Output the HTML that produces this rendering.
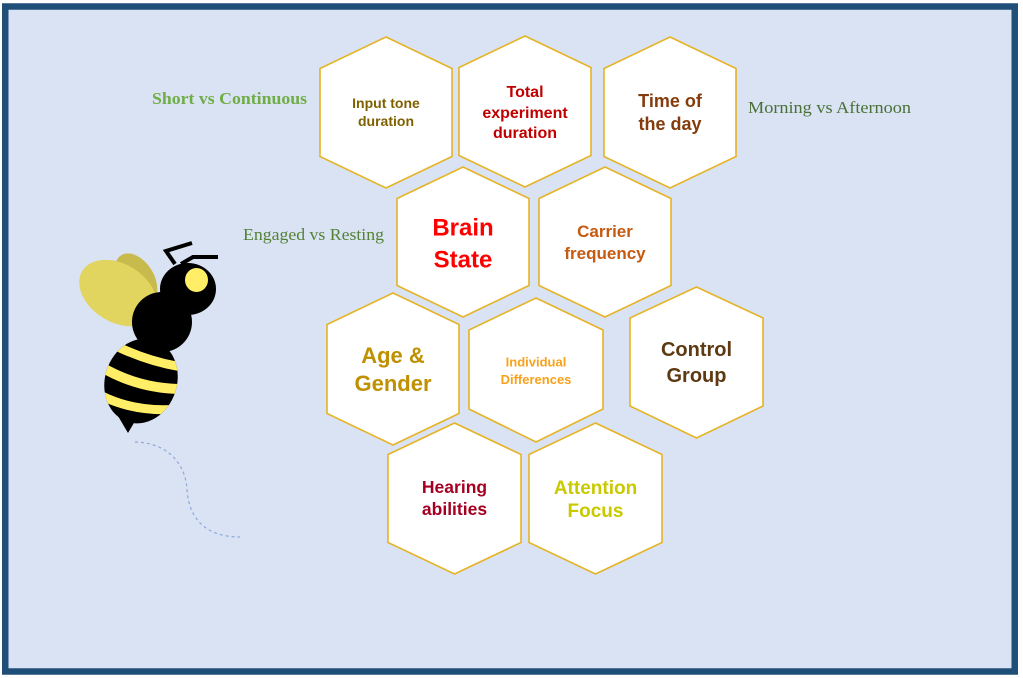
<!DOCTYPE html>
<html><head><meta charset="utf-8"><style>
html,body{margin:0;padding:0;background:#fff;}
svg{display:block;}
.h{fill:#fff;stroke:#E6B325;stroke-width:1.6;}
.t{font-family:"Liberation Sans",Arial,sans-serif;font-weight:bold;text-anchor:middle;}
.s{font-family:"Liberation Serif","Times New Roman",serif;}
</style></head><body>
<svg width="1023" height="678" viewBox="0 0 1023 678" xmlns="http://www.w3.org/2000/svg">
<rect x="0" y="0" width="1023" height="678" fill="#fff"/>
<rect x="5.25" y="6.5" width="1009.5" height="665" fill="#DAE3F3" stroke="#1F4E79" stroke-width="6.5"/>

<!-- hexagons -->
<polygon class="h" points="386,37 452,68.5 452,156.5 386,188 320,156.5 320,68.5"/>
<polygon class="h" points="525,36 591,67.5 591,155.5 525,187 459,155.5 459,67.5"/>
<polygon class="h" points="670,37 736,68.5 736,156.5 670,188 604,156.5 604,68.5"/>
<polygon class="h" points="463,167 529,198.5 529,285.5 463,317 397,285.5 397,198.5"/>
<polygon class="h" points="605,167 671,198.5 671,285.5 605,317 539,285.5 539,198.5"/>
<polygon class="h" points="393,293 459,324.5 459,413.5 393,445 327,413.5 327,324.5"/>
<polygon class="h" points="536,298 603,330 603,409 536,442 469,409 469,330"/>
<polygon class="h" points="696.5,287 763,318 763,406 696.5,438 630,406 630,318"/>
<polygon class="h" points="454.5,423 521,454.5 521,542.5 454.5,574 388,542.5 388,454.5"/>
<polygon class="h" points="595.5,423 662,454.5 662,542.5 595.5,574 529,542.5 529,454.5"/>

<!-- hex text -->
<text class="t" font-size="14" fill="#7F6000"><tspan x="386" y="108">Input tone</tspan><tspan x="386" y="126">duration</tspan></text>
<text class="t" font-size="16" fill="#C00000"><tspan x="525" y="97">Total</tspan><tspan x="525" y="118">experiment</tspan><tspan x="525" y="138">duration</tspan></text>
<text class="t" font-size="18" fill="#843C0C"><tspan x="670" y="107">Time of</tspan><tspan x="670" y="130">the day</tspan></text>
<text class="t" font-size="24" fill="#FF0000"><tspan x="463" y="235.5">Brain</tspan><tspan x="463" y="267.5">State</tspan></text>
<text class="t" font-size="17" fill="#C55A11"><tspan x="605" y="237">Carrier</tspan><tspan x="605" y="259">frequency</tspan></text>
<text class="t" font-size="22" fill="#BF9000"><tspan x="393" y="363">Age &amp;</tspan><tspan x="393" y="391">Gender</tspan></text>
<text class="t" font-size="13" fill="#F9A11B"><tspan x="536" y="366.5">Individual</tspan><tspan x="536" y="384">Differences</tspan></text>
<text class="t" font-size="20" fill="#5E3A12"><tspan x="696.5" y="356">Control</tspan><tspan x="696.5" y="382">Group</tspan></text>
<text class="t" font-size="17.5" fill="#A50021"><tspan x="454.5" y="493">Hearing</tspan><tspan x="454.5" y="515">abilities</tspan></text>
<text class="t" font-size="19" fill="#C9C900"><tspan x="595.5" y="494">Attention</tspan><tspan x="595.5" y="517">Focus</tspan></text>

<!-- side labels -->
<text class="s" x="152" y="104" font-size="17" font-weight="bold" fill="#70AD47" textLength="155" lengthAdjust="spacingAndGlyphs">Short vs Continuous</text>
<text class="s" x="243" y="240" font-size="17" fill="#548235" textLength="141" lengthAdjust="spacingAndGlyphs">Engaged vs Resting</text>
<text class="s" x="748" y="113" font-size="17" fill="#4A7038" textLength="163" lengthAdjust="spacingAndGlyphs">Morning vs Afternoon</text>

<!-- dotted flight path -->
<path d="M135,442 C170,443 186,466 187,490 C189,518 205,537 240,537" fill="none" stroke="#8EA9DB" stroke-width="1.2" stroke-dasharray="3,3"/>

<!-- bee -->
<defs>
<clipPath id="abd"><ellipse cx="141" cy="381" rx="36" ry="43" transform="rotate(18 141 381)"/></clipPath>
</defs>
<ellipse cx="136" cy="279" rx="28" ry="18" transform="rotate(58 136 279)" fill="#C8BB4E"/>
<ellipse cx="118" cy="293" rx="42" ry="29" transform="rotate(32 118 293)" fill="#E1D55F"/>
<polyline points="175,264 166,251 192,243" fill="none" stroke="#000" stroke-width="4"/>
<polyline points="181,264 193,257 218,257" fill="none" stroke="#000" stroke-width="4"/>
<polygon points="118,416 138,416 128,433" fill="#000"/>
<ellipse cx="141" cy="381" rx="36" ry="43" transform="rotate(18 141 381)" fill="#000"/>
<g clip-path="url(#abd)" fill="none" stroke="#FFEE66">
<path d="M118,347 Q150,362 182,367" stroke-width="9"/>
<path d="M103,368 Q140,389 182,389" stroke-width="10"/>
<path d="M100,395 Q135,413 180,409" stroke-width="9"/>
</g>
<circle cx="162" cy="322" r="30" fill="#000"/>
<ellipse cx="188" cy="289" rx="28" ry="26" fill="#000"/>
<ellipse cx="196.5" cy="280" rx="11.5" ry="12" fill="#FFEE66"/>
</svg>
</body></html>
